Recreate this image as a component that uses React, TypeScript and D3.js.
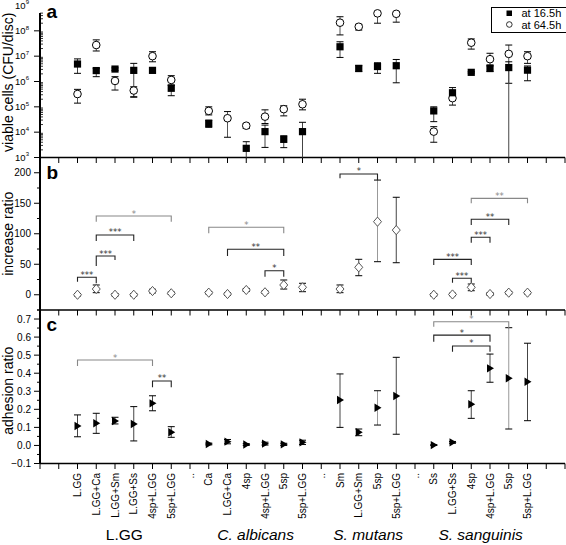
import React from "react";
import * as d3 from "d3";

const W = 566;
const H = 545;
const FONT = "'Liberation Sans', Arial, Helvetica, sans-serif";

// x positions: 0..28, categories start at index 2
const xTickCount = 28;
const categoryLabels = [
  "L.GG", "L.GG+Ca", "L.GG+Sm", "L.GG+Ss", "4sp+L.GG", "5sp+L.GG", "..",
  "Ca", "L.GG+Ca", "4sp", "4sp+L.GG", "5sp", "5sp+L.GG", "..",
  "Sm", "L.GG+Sm", "5sp", "5sp+L.GG", "..",
  "Ss", "L.GG+Ss", "4sp", "4sp+L.GG", "5sp", "5sp+L.GG",
];
const categoryStart = 2;
const groupNames = ["L.GG", "C. albicans", "S. mutans", "S. sanguinis"];
const groupItalic = [false, true, true, true];
const groupSpans = [[2, 7], [9, 14], [16, 19], [21, 26]];

// Panel a: viable cells [index, value, low, high]
const cells16h = [
  [2, 4.9e6, 2.1e6, 7.8e6], [3, 2.7e6, 1.55e6, 3.3e6], [4, 3.1e6, 2.75e6, 3.45e6],
  [5, 2.75e6, 2.5e5, 5.2e6], [6, 2.75e6, 2.6e6, 2.95e6], [7, 5.4e5, 2.75e5, 7.2e5],
  [9, 2.2e4, 1.55e4, 3.0e4], [11, 2.3e3, 5e2, 4.2e3], [12, 1.05e4, 2.5e3, 1.9e4],
  [13, 5.2e3, 2.45e3, 7.2e3], [14, 1.05e4, 5e2, 2.45e4],
  [16, 2.35e7, 8.9e6, 3.7e7], [17, 3.3e6, 2.45e6, 4.2e6], [18, 3.9e6, 2.1e6, 5.5e6],
  [19, 4.2e6, 8.9e5, 7.4e6],
  [21, 6.9e4, 2.6e4, 1.0e5], [22, 3.6e5, 2.0e5, 5.75e5], [23, 2.3e6, 2.15e6, 2.45e6],
  [24, 3.3e6, 2.45e6, 4.1e6], [25, 3.55e6, 5e2, 6.0e6], [26, 2.8e6, 1.07e6, 4.1e6],
];
const cells64h = [
  [2, 3.2e5, 1.4e5, 4.9e5], [3, 2.75e7, 1.6e7, 4.4e7], [4, 1.05e6, 4.6e5, 1.55e6],
  [5, 4.4e5, 2.4e5, 6.2e5], [6, 1.0e7, 6.0e6, 1.5e7], [7, 1.15e6, 7.2e5, 1.7e6],
  [9, 6.9e4, 4.8e4, 1.0e5], [10, 3.55e4, 6.3e3, 6.5e4], [11, 1.8e4, 1.4e4, 2.2e4],
  [12, 4.1e4, 2.2e4, 7.6e4], [13, 8.1e4, 4.4e4, 1.1e5], [14, 1.26e5, 7.6e4, 2.0e5],
  [16, 2.1e8, 6.9e7, 3.6e8], [17, 1.45e8, 1.07e8, 1.8e8], [18, 4.9e8, 2.0e8, 7.2e8],
  [19, 4.7e8, 2.2e8, 7.2e8],
  [21, 1.05e4, 4.0e3, 1.65e4], [22, 2.2e5, 1.17e5, 2.8e5], [23, 3.4e7, 1.9e7, 4.8e7],
  [24, 7.6e6, 4.5e6, 1.3e7], [25, 1.23e7, 8.5e5, 2.75e7], [26, 1.0e7, 5.2e6, 1.5e7],
];

// Panel b: increase ratio [index, value, low, high]
const increaseRatio = [
  [2, 0, -2, 2], [3, 9.4, 3.4, 16], [4, 0, -2, 2], [5, 0, -2, 2], [6, 6.1, 3, 9], [7, 2.4, 0.4, 4.4],
  [9, 3.4, 1.4, 5.4], [10, 1.2, -0.8, 3.2], [11, 7.8, 5.3, 10.3], [12, 4, 2, 6], [13, 16, 9.4, 24.2], [14, 12.2, 5, 18.8],
  [16, 9.4, 3.4, 16], [17, 45, 31.2, 58.1], [18, 119.8, 54.2, 188], [19, 106, 52.5, 159.8],
  [21, 0, -2, 2], [22, 0.5, -1.5, 2.5], [23, 12.2, 6.6, 17.6], [24, 1.2, -0.8, 3.2], [25, 3.4, 1.4, 5.4], [26, 3.4, 1.4, 5.4],
];

// Panel c: adhesion ratio [index, value, low, high]
const adhesionRatio = [
  [2, 0.108, 0.048, 0.169], [3, 0.123, 0.067, 0.178], [4, 0.135, 0.119, 0.156], [5, 0.119, 0.025, 0.215],
  [6, 0.233, 0.192, 0.275], [7, 0.073, 0.045, 0.104],
  [9, 0.008, 0.003, 0.013], [10, 0.021, 0.009, 0.033], [11, 0.005, 0.0, 0.01], [12, 0.01, 0.002, 0.018],
  [13, 0.006, 0.0, 0.012], [14, 0.017, 0.005, 0.029],
  [16, 0.252, 0.1, 0.396], [17, 0.073, 0.054, 0.091], [18, 0.209, 0.113, 0.303], [19, 0.274, 0.062, 0.488],
  [21, 0.002, 0.0, 0.004], [22, 0.017, 0.012, 0.022], [23, 0.228, 0.15, 0.303], [24, 0.427, 0.35, 0.506],
  [25, 0.372, 0.091, 0.652], [26, 0.353, 0.137, 0.566],
];

// significance brackets [from, to, lineValue, leftLegEnd, rightLegEnd, label, gray]
const bracketsB: [number, number, number, number, number, string, boolean][] = [
  [2, 3, 28.6, 21.4, 18.8, "***", false],
  [3, 4, 63.5, 47.1, 57, "***", false],
  [3, 5, 98, 88, 88, "***", false],
  [3, 7, 129, 119.8, 119.8, "*", true],
  [9, 13, 110.6, 100.7, 100.7, "*", true],
  [10, 13, 74.5, 63.5, 63.5, "**", false],
  [12, 13, 39.4, 29.6, 29.6, "*", false],
  [16, 18, 198, 191, 188, "*", false],
  [23, 26, 158, 150, 150, "**", true],
  [23, 25, 123.7, 114.3, 114.3, "**", false],
  [23, 24, 94.2, 85.3, 85.3, "***", false],
  [21, 23, 58, 48.8, 48.8, "***", false],
  [22, 23, 27, 19.8, 19.8, "***", false],
];
const bracketsC: [number, number, number, number, number, string, boolean][] = [
  [2, 6, 0.473, 0.44, 0.44, "*", true],
  [6, 7, 0.357, 0.322, 0.322, "**", false],
  [21, 25, 0.685, 0.657, 0.65, "*", true],
  [21, 24, 0.611, 0.574, 0.574, "*", false],
  [22, 24, 0.551, 0.519, 0.519, "*", false],
];

const logTicks = [3, 4, 5, 6, 7, 8, 9];
const bTicks = [0, 50, 100, 150, 200];
const bMinor = [-25, 25, 75, 125, 175, 225];
const cTicks = [-0.1, 0.0, 0.1, 0.2, 0.3, 0.4, 0.5, 0.6, 0.7];
const cMinor = [-0.05, 0.05, 0.15, 0.25, 0.35, 0.45, 0.55, 0.65, 0.75];

const legendItems = ["at 16.5h", "at 64.5h"];

const x = d3.scaleLinear().domain([0, xTickCount]).range([40, 565]);
const ya = d3.scaleLog().domain([1e3, 1e9]).range([157.5, 5.5]);
const yb = d3.scaleLinear().domain([-25, 225]).range([310, 157.5]);
const yc = d3.scaleLinear().domain([-0.1, 0.75]).range([463.5, 310]);

const AX = 40;
const A_TOP = 13;

function ErrBar({ cx, yLo, yHi, yMin, yMax, color = "#333" }: any) {
  const lo = Math.min(yLo, yMax);
  const hi = Math.max(yHi, yMin);
  const loClipped = yLo > yMax;
  return (
    <g stroke={color} strokeWidth={1}>
      <line x1={cx} x2={cx} y1={lo} y2={hi} />
      <line x1={cx - 3.5} x2={cx + 3.5} y1={hi} y2={hi} stroke="#000" />
      {!loClipped && <line x1={cx - 3.5} x2={cx + 3.5} y1={lo} y2={lo} stroke="#000" />}
    </g>
  );
}

function Bracket({ b, y }: any) {
  const [from, to, lv, ll, rl, label, gray] = b;
  const col = gray ? "#888" : "#333";
  const x1 = x(from), x2 = x(to), yl = y(lv);
  return (
    <g>
      <path d={`M${x1},${y(ll)}V${yl}H${x2}V${y(rl)}`} fill="none" stroke={gray ? "#888" : "#222"} strokeWidth={1.1} />
      <text x={(x1 + x2) / 2} y={yl + 0.5} fontSize={8.5} textAnchor="middle" fill={col} fontFamily="'DejaVu Sans', sans-serif">{label}</text>
    </g>
  );
}

export default function App() {
  const tickIdx = d3.range(0, xTickCount + 1);
  return (
    <div style={{ position: "absolute", left: 0, top: 0 }}>
      <svg width={W} height={H} style={{ display: "block", background: "#fff" }} fontFamily={FONT}>
        <rect width={W} height={H} fill="#fff" />

        {/* y axis titles */}
        <text transform={`translate(12.5,${(A_TOP + 157.5) / 2 - 3}) rotate(-90)`} textAnchor="middle" fontSize={14}>viable cells (CFU/disc)</text>
        <text transform={`translate(12.5,${(157.5 + 310) / 2}) rotate(-90)`} textAnchor="middle" fontSize={14}>increase ratio</text>
        <text transform={`translate(12.5,${(310 + 463.5) / 2 + 4}) rotate(-90)`} textAnchor="middle" fontSize={14}>adhesion ratio</text>

        {/* panel letters */}
        <text x={46.5} y={17.5} fontSize={19} fontWeight="bold">a</text>
        <text x={46.5} y={178.5} fontSize={19} fontWeight="bold">b</text>
        <text x={46.5} y={330.5} fontSize={19} fontWeight="bold">c</text>

        {/* y axis line */}
        <line x1={AX} x2={AX} y1={A_TOP} y2={463.5} stroke="#000" strokeWidth={2} />

        {/* panel a y ticks */}
        {logTicks.map((e) => {
          const yy = ya(Math.pow(10, e));
          return (
            <g key={"la" + e}>
              {yy >= A_TOP && <line x1={AX - 6} x2={AX} y1={yy} y2={yy} stroke="#000" strokeWidth={1} />}
              <text x={25.5} y={yy + 3.3} fontSize={9.5} textAnchor="end">10</text>
              <text x={25.7} y={yy - 1.2} fontSize={6}>{e}</text>
            </g>
          );
        })}
        {logTicks.slice(0, -1).flatMap((e) =>
          d3.range(2, 10).map((m) => {
            const yy = ya(m * Math.pow(10, e));
            if (yy < A_TOP) return null;
            return <line key={`ma${e}-${m}`} x1={AX} x2={AX + 3} y1={yy} y2={yy} stroke="#000" strokeWidth={0.8} />;
          })
        )}

        {/* panel b y ticks */}
        {bTicks.map((v) => (
          <g key={"lb" + v}>
            <line x1={AX - 6} x2={AX} y1={yb(v)} y2={yb(v)} stroke="#000" />
            <text x={31} y={yb(v) + 3.5} fontSize={10} textAnchor="end">{v}</text>
          </g>
        ))}
        {bMinor.map((v) => (
          <line key={"mb" + v} x1={AX - 3} x2={AX} y1={yb(v)} y2={yb(v)} stroke="#000" />
        ))}

        {/* panel c y ticks */}
        {cTicks.map((v) => (
          <g key={"lc" + v}>
            <line x1={AX - 6} x2={AX} y1={yc(v)} y2={yc(v)} stroke="#000" />
            <text x={31} y={yc(v) + 3.5} fontSize={10} textAnchor="end">{d3.format(".1f")(v)}</text>
          </g>
        ))}
        {cMinor.map((v) => (
          <line key={"mc" + v} x1={AX - 3} x2={AX} y1={yc(v)} y2={yc(v)} stroke="#000" />
        ))}

        {/* x axes */}
        {[157.5, 310, 463.5].map((yy) => (
          <g key={"xa" + yy}>
            <line x1={AX} x2={565} y1={yy} y2={yy} stroke="#000" strokeWidth={1.6} />
            {tickIdx.map((i) => (
              <line key={i} x1={x(i)} x2={x(i)} y1={yy} y2={yy + 5.5} stroke="#000" strokeWidth={1} />
            ))}
          </g>
        ))}

        {/* x tick labels */}
        {categoryLabels.map((lab, k) => (
          <text key={"xl" + k} transform={`translate(${x(categoryStart + k)},473) rotate(-90)`} textAnchor="end" dy="0.35em" fontSize={10}>{lab}</text>
        ))}

        {/* group labels */}
        {groupNames.map((g, k) => (
          <text key={g} x={x((groupSpans[k][0] + groupSpans[k][1]) / 2)} y={540} fontSize={15.5} textAnchor="middle" fontStyle={groupItalic[k] ? "italic" : "normal"}>{g}</text>
        ))}

        {/* panel a data */}
        {cells64h.map(([i, v, lo, hi]) => (
          <ErrBar key={"ec" + i} cx={x(i)} yLo={ya(lo)} yHi={ya(hi)} yMin={A_TOP} yMax={157.5} color="#555" />
        ))}
        {cells16h.map(([i, v, lo, hi]) => (
          <ErrBar key={"es" + i} cx={x(i)} yLo={ya(lo)} yHi={ya(hi)} yMin={A_TOP} yMax={157.5} color="#444" />
        ))}
        {cells64h.map(([i, v]) => (
          <circle key={"c" + i} cx={x(i)} cy={ya(v)} r={3.8} fill="#fff" stroke="#000" strokeWidth={1} />
        ))}
        {cells16h.map(([i, v]) => (
          <rect key={"s" + i} x={x(i) - 3.6} y={ya(v) - 3.6} width={7.2} height={7.2} fill="#000" />
        ))}

        {/* legend */}
        <rect x={491.5} y={7.5} width={80} height={25} fill="#fff" stroke="#000" strokeWidth={1} />
        <rect x={506.5} y={10.5} width={5.5} height={5.5} fill="#000" />
        <text x={521.5} y={17} fontSize={11}>{legendItems[0]}</text>
        <circle cx={509.3} cy={24.5} r={2.8} fill="#fff" stroke="#000" strokeWidth={0.8} />
        <text x={521.5} y={28.5} fontSize={11}>{legendItems[1]}</text>

        {/* panel b data */}
        {increaseRatio.map(([i, v, lo, hi]) => (
          <ErrBar key={"eb" + i} cx={x(i)} yLo={yb(lo)} yHi={yb(hi)} yMin={157.5} yMax={310} color={i === 18 ? "#999" : "#444"} />
        ))}
        {increaseRatio.map(([i, v]) => {
          const cx = x(i), cy = yb(v);
          return <path key={"d" + i} d={`M${cx},${cy - 4.6}L${cx + 4},${cy}L${cx},${cy + 4.6}L${cx - 4},${cy}Z`} fill="#fff" stroke="#444" strokeWidth={0.9} />;
        })}
        {bracketsB.map((b, k) => <Bracket key={"bb" + k} b={b} y={yb} />)}

        {/* panel c data */}
        {adhesionRatio.map(([i, v, lo, hi]) => (
          <ErrBar key={"ecc" + i} cx={x(i)} yLo={yc(lo)} yHi={yc(hi)} yMin={310} yMax={463.5} color={i === 18 || i === 25 ? "#999" : "#444"} />
        ))}
        {adhesionRatio.map(([i, v]) => {
          const cx = x(i), cy = yc(v);
          return <path key={"t" + i} d={`M${cx - 3},${cy - 4.2}L${cx + 4},${cy}L${cx - 3},${cy + 4.2}Z`} fill="#000" />;
        })}
        {bracketsC.map((b, k) => <Bracket key={"bc" + k} b={b} y={yc} />)}
      </svg>
    </div>
  );
}
